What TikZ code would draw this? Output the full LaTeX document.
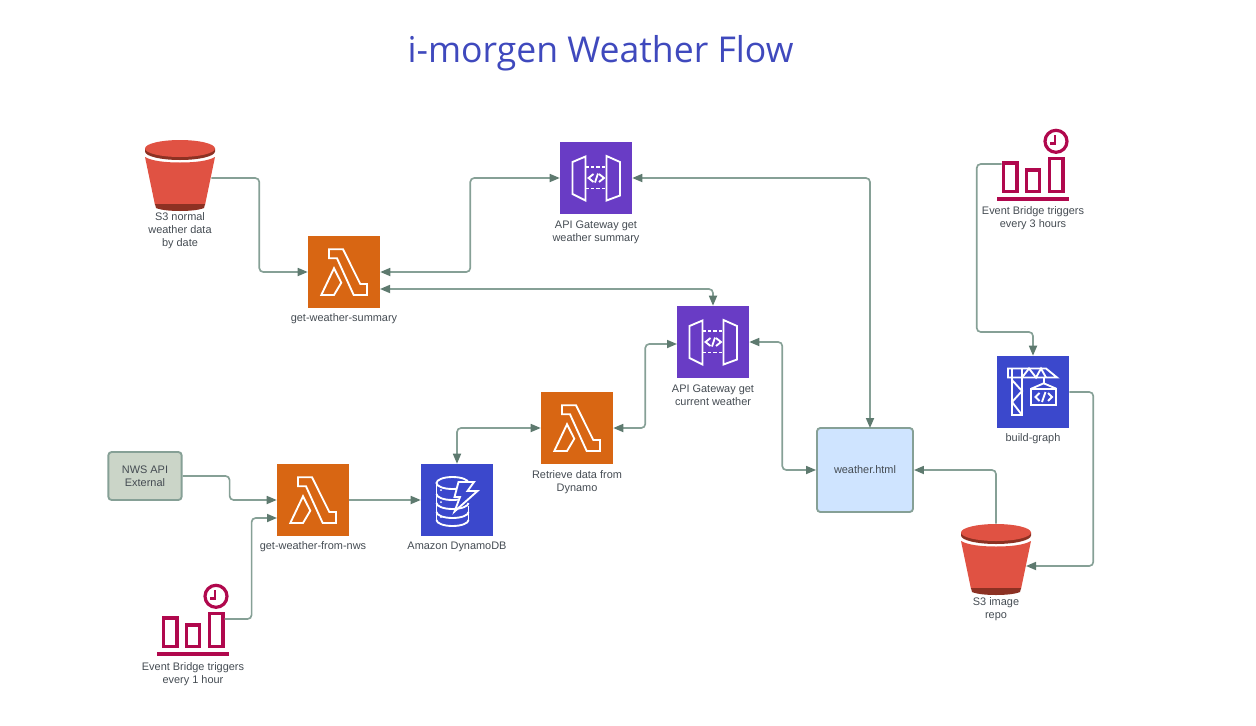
\documentclass[tikz,border=0pt]{standalone}
\usepackage{fontspec}
\setmainfont{Liberation Sans}
\newfontfamily\titlefont{Open Sans}
\usetikzlibrary{arrows.meta}
\definecolor{lamorange}{HTML}{D86613}
\definecolor{gwpurple}{HTML}{693CC5}
\definecolor{dynblue}{HTML}{3B48CC}
\definecolor{bktred}{HTML}{E05243}
\definecolor{bktdark}{HTML}{8C3123}
\definecolor{brgred}{HTML}{B0084D}
\definecolor{flowline}{HTML}{86A096}
\definecolor{flowtip}{HTML}{5E7A6F}
\definecolor{labelgray}{HTML}{444B52}
\definecolor{titleblue}{HTML}{3F49BD}
\definecolor{nwsfill}{HTML}{CBD5C8}
\definecolor{htmlfill}{HTML}{CFE4FF}
\tikzset{
  iconbox/.style={inner sep=0pt, minimum width=54pt, minimum height=54pt},
  lbl/.style={font=\fontsize{8.2pt}{9.75pt}\selectfont, text=labelgray, align=center, inner sep=0pt},
  flow/.style={draw=flowline, line width=1.25pt, rounded corners=3pt, >={Triangle[length=7.5pt, width=6pt, color=flowtip]}},
  whiteline/.style={draw=white, line width=1.4pt, line join=miter},
  lambda/.pic={
    \draw[whiteline] (-15,-22.7) -- (-1,-22.7) -- (16.3,12) -- (23,12) -- (23,23) -- (9.7,23) -- (-7,-13.7) -- (-15,-13.7) -- cycle;
    \draw[whiteline] (-22.7,23) -- (-10,-3.7) -- (-2.7,10.7) -- (-10,23) -- cycle;
  },
  gateway/.pic={
    \draw[whiteline] (-23.5,-16) -- (-10.5,-21.5) -- (-10.5,22.5) -- (-23.5,16) -- cycle;
    \draw[whiteline] (10.5,-22) -- (24,-16) -- (24,17.5) -- (10.5,22.5) -- cycle;
    \draw[whiteline, dash pattern=on 2.5pt off 1.6pt] (-10.5,-11) -- (10.5,-11);
    \draw[whiteline, dash pattern=on 2.5pt off 1.6pt] (-10.5,10.5) -- (10.5,10.5);
    \draw[whiteline] (-2.5,-4) -- (-7.5,0) -- (-2.5,4);
    \draw[whiteline] (-1,4.5) -- (2,-4.5);
    \draw[whiteline] (3,-4) -- (8,0) -- (3,4);
  },
  bucket/.pic={
    \fill[bktred] (-35,-21) .. controls (-28,-17) and (-15,-15.5) .. (0,-15.5) .. controls (15,-15.5) and (28,-17) .. (35,-21) -- (25,27) -- (-25,27) -- cycle;
    \fill[bktdark] (-25,26) -- (25,26) -- (24,30) .. controls (15,34) and (-15,34) .. (-24,30) -- cycle;
    \fill[bktdark] (-35,-29.5) -- (35,-29.5) -- (35,-26.5) arc[start angle=0, end angle=-180, x radius=35, y radius=-8.5] -- cycle;
    \fill[bktred] (0,-29.5) ellipse[x radius=35, y radius=8.5];
  },
  bridge/.pic={
    \draw[brgred, line width=2.4pt] (-29.4,-1.1) rectangle (-16.1,27.7);
    \draw[brgred, line width=2.4pt] (-6.9,5.9) rectangle (6.4,27.7);
    \draw[brgred, line width=2.4pt] (16.1,-5.7) rectangle (29.9,27.7);
    \draw[brgred, line width=2.5pt] (-36,35) -- (36,35);
    \draw[brgred, line width=2.4pt] (23,-22.7) circle[radius=11];
    \draw[brgred, line width=2.2pt] (22,-29) -- (22,-20.7) -- (16.5,-20.7);
  },
  dynamo/.pic={
    \draw[whiteline] (-4.5,-17) ellipse[x radius=16, y radius=6];
    \draw[whiteline] (-20.5,-17) -- (-20.5,20);
    \foreach \yy in {-6,3,12,20} {
      \draw[whiteline] (-20.5,\yy) arc[start angle=180, end angle=360, x radius=16, y radius=-6];
    }
    \draw[whiteline] (11.5,6) -- (11.5,20);
    \foreach \yy in {-10,2,17} {
      \fill[white] (-16,\yy) circle[radius=1];
    }
    \draw[whiteline, fill=dynblue] (1.5,-18) -- (17,-18) -- (10.5,-9) -- (20.5,-9) -- (-2.5,11.5) -- (3,-3) -- (-2.5,-3) -- cycle;
  },
  crane/.pic={
    \draw[whiteline] (-25,-23.5) -- (13,-23.5) -- (24,-14.5) -- (-25,-14.5) -- cycle;
    \draw[whiteline] (-21,-23.5) -- (-21,-14.5) (-11,-23.5) -- (-11,-14.5);
    \draw[whiteline] (-11,-14.5) -- (-4,-23.5) -- (3,-14.5) -- (8,-23.5) -- (13,-14.5);
    \draw[whiteline] (-21,-14.5) -- (-21,23) -- (-11,23) -- (-11,-14.5);
    \draw[whiteline] (-21,-12) -- (-11,-1) -- (-21,10) -- (-11,23);
    \draw[whiteline] (-1.7,-3.3) rectangle (23.3,13.3);
    \draw[whiteline] (-1.7,-3.3) -- (10.7,-8.7) -- (23.3,-3.3);
    \draw[whiteline] (10.7,-14.5) -- (10.7,-8.7);
    \draw[whiteline] (6.5,1) -- (2.5,5) -- (6.5,9);
    \draw[whiteline] (9,10) -- (12.5,0);
    \draw[whiteline] (15,1) -- (19,5) -- (15,9);
  }
}
\begin{document}
\begin{tikzpicture}[x=0.75pt, y=-0.75pt]
  \useasboundingbox (0,0) rectangle (1256,725);
  \node[font=\titlefont\fontsize{26.7pt}{30pt}\selectfont, text=titleblue, inner sep=0pt] (title) at (600.5,53) {i-morgen Weather Flow};

  \node[iconbox, minimum width=46.5pt, minimum height=57pt] (bktA) at (180,178) {};
  \pic at (bktA) {bucket};
  \node[lbl] (bktAlbl) at (180,231) {S3 normal\\weather data\\by date};
  \node[iconbox, minimum width=46.5pt, minimum height=57pt] (bktB) at (996,562) {};
  \pic at (bktB) {bucket};
  \node[lbl] (bktBlbl) at (996,609) {S3 image\\repo};

  \node[iconbox, fill=lamorange] (lamSum) at (344,272) {};
  \pic at (lamSum) {lambda};
  \node[lbl] (lamSumlbl) at (344,319) {get-weather-summary};
  \node[iconbox, fill=lamorange] (lamRet) at (577,428) {};
  \pic at (lamRet) {lambda};
  \node[lbl] (lamRetlbl) at (577,482) {Retrieve data from\\Dynamo};
  \node[iconbox, fill=lamorange] (lamNws) at (313,500) {};
  \pic at (lamNws) {lambda};
  \node[lbl] (lamNwslbl) at (313,547) {get-weather-from-nws};

  \node[iconbox, fill=gwpurple] (gwSum) at (596,178) {};
  \pic at (gwSum) {gateway};
  \node[lbl] (gwSumlbl) at (596,232) {API Gateway get\\weather summary};
  \node[iconbox, fill=gwpurple] (gwCur) at (713,342) {};
  \pic at (gwCur) {gateway};
  \node[lbl] (gwCurlbl) at (713,395.5) {API Gateway get\\current weather};

  \node[iconbox, fill=dynblue] (dyn) at (457,500) {};
  \pic at (dyn) {dynamo};
  \node[lbl] (dynlbl) at (457,547) {Amazon DynamoDB};
  \node[iconbox, fill=dynblue] (build) at (1033,392) {};
  \pic at (build) {crane};
  \node[lbl] (buildlbl) at (1033,439) {build-graph};

  \node[lbl, minimum width=55pt, minimum height=36pt, draw=flowline, line width=1.4pt, fill=nwsfill, rounded corners=2.5pt] (nws) at (145,476) {NWS API\\External};
  \node[lbl, minimum width=72pt, minimum height=63pt, draw=flowline, line width=1.4pt, fill=htmlfill, rounded corners=2.5pt] (html) at (865,470) {weather.html};

  \node[inner sep=0pt, minimum width=47pt, minimum height=54pt] (brgA) at (193,619) {};
  \pic at (brgA) {bridge};
  \node[lbl] (brgAlbl) at (193,674) {Event Bridge triggers\\every 1 hour};
  \node[inner sep=0pt, minimum width=46.5pt, minimum height=54pt] (brgB) at (1033,164) {};
  \pic at (brgB) {bridge};
  \node[lbl] (brgBlbl) at (1033,218) {Event Bridge triggers\\every 3 hours};

  \coordinate (lamSumB) at (380,289);
  \coordinate (lamNwsB) at (277,518);
  \coordinate (gwCurW) at (677,344);
  \coordinate (htmlN) at (870,428);
  \coordinate (bktBin) at (1026,566);

  \draw[flow, ->] (bktA.east) -- ++(48,0) |- (lamSum.west);
  \draw[flow, <->] (lamSum.east) -- ++(90,0) |- (gwSum.west);
  \draw[flow, <->] (gwSum.east) -| (htmlN);
  \draw[flow, <->] (lamSumB) -| (gwCur.north);
  \draw[flow, <->] (lamRet.east) -- ++(32,0) |- (gwCurW);
  \draw[flow, <->] (gwCur.east) -- ++(33,0) |- (html.west);
  \draw[flow, <->] (dyn.north) |- (lamRet.west);
  \draw[flow, ->] (lamNws.east) -- (dyn.west);
  \draw[flow, ->] (nws.east) -- ++(47,0) |- (lamNws.west);
  \draw[flow, ->] (brgA.east) -- ++(27,0) |- (lamNwsB);
  \draw[flow, ->] (brgB.west) -- ++(-25,0) |- (1033,332) -- (build.north);
  \draw[flow, ->] (build.east) -- ++(24,0) |- (bktBin);
  \draw[flow, ->] (bktB.north) |- (html.east);
\end{tikzpicture}
\end{document}
